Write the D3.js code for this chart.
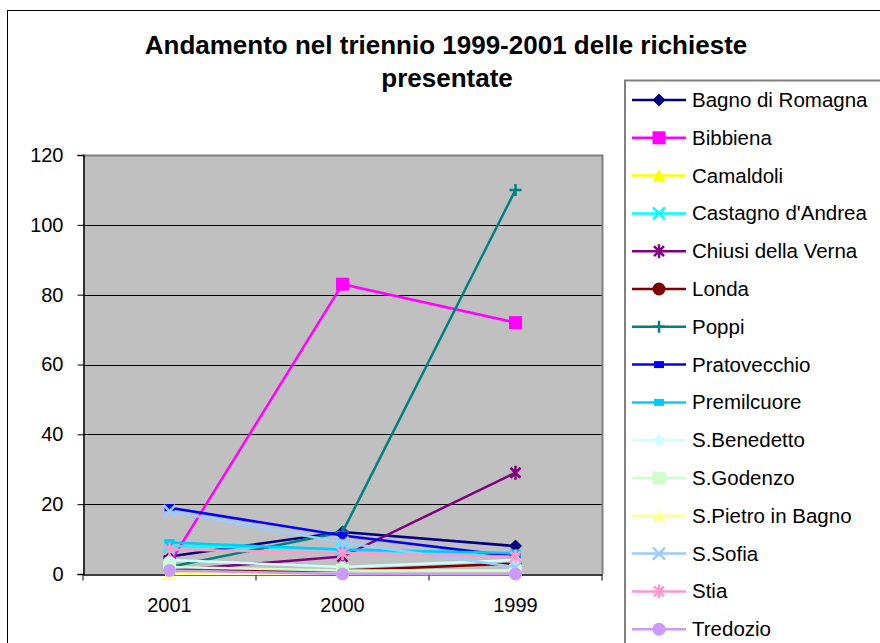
<!DOCTYPE html>
<html>
<head>
<meta charset="utf-8">
<script src="https://cdn.jsdelivr.net/npm/d3@7"></script>
<style>
  body { margin: 0; background: #fff; }
  text { font-family: "Liberation Sans", Arial, sans-serif; }
</style>
</head>
<body>
<div id="chart"></div>
<script>
// categories, left to right as in the sheet
var years = ["2001", "2000", "1999"];

var comuni = ["Bagno di Romagna", "Bibbiena", "Camaldoli", "Castagno d'Andrea",
  "Chiusi della Verna", "Londa", "Poppi", "Pratovecchio", "Premilcuore",
  "S.Benedetto", "S.Godenzo", "S.Pietro in Bagno", "S.Sofia", "Stia", "Tredozio"];

// requests per year, same order as years
var bagno = [5, 12, 8];
var bibbiena = [3, 83, 72];
var camaldoli = [0, 1, 1];
var castagno = [8, 7, 5];
var chiusi = [1, 5, 29];
var londa = [1, 1, 3];
var poppi = [2, 12, 110];
var pratovecchio = [19, 11, 5];
var premilcuore = [9, 7, 6];
var benedetto = [4, 2, 4];
var godenzo = [2, 1, 1];
var pietro = [0, 0, 0];
var sofia = [18, 9, 2];
var stia = [7, 6, 5];
var tredozio = [1, 0, 0];

var yTicks = [0, 20, 40, 60, 80, 100, 120];

var seriesValues = [bagno, bibbiena, camaldoli, castagno, chiusi, londa, poppi,
  pratovecchio, premilcuore, benedetto, godenzo, pietro, sofia, stia, tredozio];

var colors = ["#000080", "#FF00FF", "#FFFF00", "#00FFFF", "#800080", "#800000",
  "#008080", "#0000FF", "#00CCFF", "#CCFFFF", "#CCFFCC", "#FFFF99", "#99CCFF",
  "#FF99CC", "#CC99FF"];
var markers = ["diamond", "square", "triangle", "x", "star", "circle", "plus",
  "smallsquare", "smallsquare", "diamond", "square", "triangle", "x", "star", "circle"];

var width = 880, height = 643;
var plot = {left: 83, right: 602, top: 155, bottom: 574};
var font = "'Liberation Sans', Arial, sans-serif";

var svg = d3.select("#chart").append("svg")
    .attr("width", width)
    .attr("height", height);

// outer chart frame
svg.append("rect")
    .attr("x", 7.5).attr("y", 10.5)
    .attr("width", 900).attr("height", 700)
    .attr("fill", "#fff").attr("stroke", "#000").attr("stroke-width", 1);

var x = d3.scaleBand().domain(years).range([plot.left, plot.right]);
var y = d3.scaleLinear().domain([0, 120]).range([plot.bottom, plot.top]);

// plot area
svg.append("rect")
    .attr("x", plot.left).attr("y", plot.top)
    .attr("width", plot.right - plot.left).attr("height", plot.bottom - plot.top)
    .attr("fill", "#C0C0C0");

// gridlines
svg.append("g").selectAll("line")
    .data(yTicks.filter(function(d) { return d > 0 && d < 120; }))
  .enter().append("line")
    .attr("x1", plot.left).attr("x2", plot.right)
    .attr("y1", function(d) { return Math.round(y(d)) + 0.5; })
    .attr("y2", function(d) { return Math.round(y(d)) + 0.5; })
    .attr("stroke", "#000").attr("stroke-width", 1);

// gray border top / right
svg.append("path")
    .attr("d", "M" + plot.left + "," + (plot.top + 0.5) + "H" + (plot.right + 0.5) + "V" + plot.bottom)
    .attr("fill", "none").attr("stroke", "#808080").attr("stroke-width", 2);

// y axis
var yAxis = svg.append("g")
    .attr("transform", "translate(" + (plot.left + 0.5) + ",0)")
    .call(d3.axisLeft(y).tickValues(yTicks).tickSize(6).tickPadding(14));
yAxis.attr("font-size", 20).attr("font-family", font);
yAxis.selectAll("text").attr("fill", "#000");
yAxis.selectAll("line").attr("stroke", "#000");
yAxis.select(".domain").attr("stroke", "#000").attr("stroke-width", 1.5);

// x axis with ticks between categories
var xAxis = svg.append("g")
    .attr("transform", "translate(0," + (plot.bottom + 0.5) + ")")
    .call(d3.axisBottom(x).tickSize(0).tickPadding(23));
xAxis.attr("font-size", 20).attr("font-family", font);
xAxis.selectAll("text").attr("fill", "#000");
xAxis.select(".domain").attr("stroke", "#000").attr("stroke-width", 1.5);
xAxis.selectAll(".sep")
    .data(d3.range(years.length + 1))
  .enter().append("line")
    .attr("class", "sep")
    .attr("x1", function(i) { return plot.left + i * x.step(); })
    .attr("x2", function(i) { return plot.left + i * x.step(); })
    .attr("y1", 0).attr("y2", 6)
    .attr("stroke", "#000");

function markerPath(type) {
  switch (type) {
    case "diamond": return "M0,-6.5L6.5,0L0,6.5L-6.5,0Z";
    case "square": return "M-6.5,-6.5H6.5V6.5H-6.5Z";
    case "smallsquare": return "M-5,-3.5H5V3.5H-5Z";
    case "triangle": return "M0,-6.5L6.5,5.5H-6.5Z";
    case "x": return "M-6,-6L6,6M6,-6L-6,6";
    case "star": return "M-5,-5L5,5M5,-5L-5,5M0,-7V7";
    case "plus": return "M-6,0H6M0,-6V6";
    case "circle": return "M6.5,0A6.5,6.5 0 1,1 -6.5,0A6.5,6.5 0 1,1 6.5,0Z";
  }
}
function isStroked(type) { return type === "x" || type === "star" || type === "plus"; }

function drawMarker(g, type, color, tx, ty) {
  g.append("path")
      .attr("transform", "translate(" + tx + "," + ty + ")")
      .attr("d", markerPath(type))
      .attr("fill", isStroked(type) ? "none" : color)
      .attr("stroke", color)
      .attr("stroke-width", isStroked(type) ? 2.5 : 0);
}

var line = d3.line()
    .x(function(d, i) { return x(years[i]) + x.bandwidth() / 2; })
    .y(function(d) { return y(d); });

var seriesG = svg.append("g");
seriesValues.forEach(function(vals, s) {
  var g = seriesG.append("g");
  g.append("path")
      .attr("d", line(vals))
      .attr("fill", "none")
      .attr("stroke", colors[s])
      .attr("stroke-width", 2.5);
  vals.forEach(function(v, i) {
    drawMarker(g, markers[s], colors[s], x(years[i]) + x.bandwidth() / 2, y(v));
  });
});

// title
var title = svg.append("text")
    .attr("text-anchor", "middle")
    .attr("font-size", 26).attr("font-weight", "bold");
title.append("tspan").attr("x", 446).attr("y", 54)
    .text("Andamento nel triennio 1999-2001 delle richieste");
title.append("tspan").attr("x", 447).attr("y", 87).text("presentate");

// legend
var legend = svg.append("g");
legend.append("rect")
    .attr("x", 625).attr("y", 80.5)
    .attr("width", 300).attr("height", 600)
    .attr("fill", "#fff").attr("stroke", "#808080").attr("stroke-width", 2);

comuni.forEach(function(name, s) {
  var ly = 100 + s * 37.8;
  var g = legend.append("g");
  g.append("line")
      .attr("x1", 632).attr("x2", 686)
      .attr("y1", ly).attr("y2", ly)
      .attr("stroke", colors[s]).attr("stroke-width", 2.5);
  drawMarker(g, markers[s], colors[s], 659, ly);
  g.append("text")
      .attr("x", 692).attr("y", ly + 7)
      .attr("font-size", 20.5)
      .text(name);
});
</script>
</body>
</html>
